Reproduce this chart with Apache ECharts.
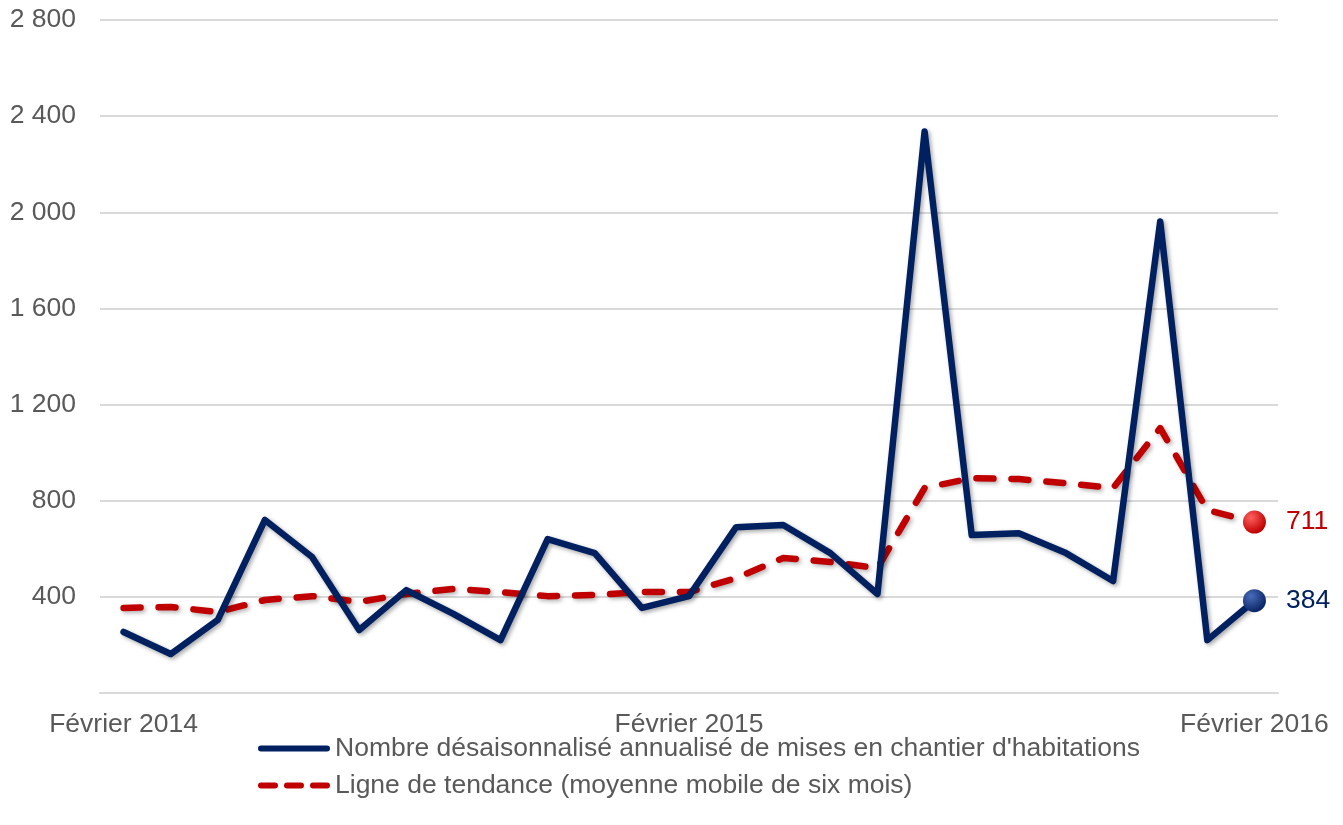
<!DOCTYPE html>
<html>
<head>
<meta charset="utf-8">
<script src="https://cdn.jsdelivr.net/npm/echarts@6/dist/echarts.min.js"></script>
<style>html,body{margin:0;padding:0;background:#fff}#c{width:1343px;height:825px}</style>
</head>
<body>
<div id="c"></div>
<script>
var categories = ['Février 2014','Mars 2014','Avril 2014','Mai 2014','Juin 2014','Juillet 2014','Août 2014','Septembre 2014','Octobre 2014','Novembre 2014','Décembre 2014','Janvier 2015','Février 2015','Mars 2015','Avril 2015','Mai 2015','Juin 2015','Juillet 2015','Août 2015','Septembre 2015','Octobre 2015','Novembre 2015','Décembre 2015','Janvier 2016','Février 2016'];
var starts = [254,162,304,720,566,262,428,329,220,640,582,354,403,690,699,582,412,2336,657,665,582,466,1962,220,384];
var trend = [354,358,337,387,403,379,412,433,420,403,408,420,420,478,562,545,520,853,894,890,873,853,1102,761,711];
var yTicks = {min:0, max:2800, interval:400};
var seriesNames = ["Nombre désaisonnalisé annualisé de mises en chantier d'habitations", 'Ligne de tendance (moyenne mobile de six mois)'];

var FONT = '"Liberation Sans", Arial, sans-serif';
var FS = 26.5;
var last = categories.length - 1;
function fmt(v){ if (v === 0) return ''; return String(v).replace(/\B(?=(\d{3})+(?!\d))/g, ' '); }
function sphere(c1, c2){
  return new echarts.graphic.RadialGradient(0.35, 0.3, 0.7, [{offset:0,color:c1},{offset:1,color:c2}]);
}
var solidIcon = 'path://M3,0 h66 a3,3 0 0 1 0,6 h-66 a3,3 0 0 1 0,-6 z';
var dashIcon = 'path://M3,0 h14 a3,3 0 0 1 0,6 h-14 a3,3 0 0 1 0,-6 z M29,0 h14 a3,3 0 0 1 0,6 h-14 a3,3 0 0 1 0,-6 z M55,0 h14 a3,3 0 0 1 0,6 h-14 a3,3 0 0 1 0,-6 z';
var chart = echarts.init(document.getElementById('c'), null, {renderer:'canvas'});
chart.setOption({
  animation:false,
  backgroundColor:'#fff',
  grid:{left:100, right:65, top:20, bottom:132, containLabel:false},
  legend:{
    orient:'vertical', left:253, top:730, itemWidth:72, itemHeight:6, itemGap:10,
    textStyle:{fontFamily:FONT, fontSize:FS, color:'#595959'},
    data:[{name:seriesNames[0], icon:solidIcon}, {name:seriesNames[1], icon:dashIcon}]
  },
  xAxis:{
    type:'category', data:categories, boundaryGap:true,
    axisLine:{lineStyle:{color:'#d9d9d9', width:2}},
    axisTick:{show:false},
    axisLabel:{interval:11, color:'#595959', fontFamily:FONT, fontSize:FS, margin:18}
  },
  yAxis:{
    type:'value', min:yTicks.min, max:yTicks.max, interval:yTicks.interval,
    axisLine:{show:false}, axisTick:{show:false},
    splitLine:{lineStyle:{color:'#d9d9d9', width:2}},
    axisLabel:{formatter:fmt, color:'#595959', fontFamily:FONT, fontSize:FS, margin:24}
  },
  series:[
    {
      name:seriesNames[0], type:'line', data:starts, symbol:'none', z:3,
      lineStyle:{color:'#002060', width:6.5, join:'round', cap:'round',
        shadowColor:'rgba(0,0,0,0.35)', shadowBlur:4, shadowOffsetX:2, shadowOffsetY:2},
      itemStyle:{color:'#002060'},
      markPoint:{
        symbol:'circle', symbolSize:23,
        data:[{coord:[last, starts[last]], value:starts[last]}],
        itemStyle:{color:sphere('#4a6bb8','#0a2668')},
        label:{show:true, position:'right', distance:20, formatter:'{c}', color:'#002060', fontFamily:FONT, fontSize:FS}
      }
    },
    {
      name:seriesNames[1], type:'line', data:trend, symbol:'none', z:2,
      lineStyle:{color:'#c00000', width:6.5, type:[17,18], cap:'round', join:'round',
        shadowColor:'rgba(0,0,0,0.3)', shadowBlur:4, shadowOffsetX:2, shadowOffsetY:2},
      itemStyle:{color:'#c00000'},
      markPoint:{
        symbol:'circle', symbolSize:23,
        data:[{coord:[last, trend[last]], value:trend[last]}],
        itemStyle:{color:sphere('#ff6060','#c00000')},
        label:{show:true, position:'right', distance:20, formatter:'{c}', color:'#c00000', fontFamily:FONT, fontSize:FS}
      }
    }
  ]
});
</script>
</body>
</html>
